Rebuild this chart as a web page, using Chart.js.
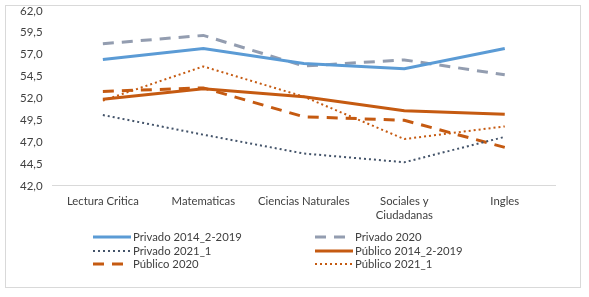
<!DOCTYPE html>
<html>
<head>
<meta charset="utf-8">
<script src="https://cdn.jsdelivr.net/npm/chart.js@4"></script>
<style>
  html, body { margin: 0; padding: 0; background: #fff; overflow: hidden; }
  .frame {
    position: absolute; left: 5px; top: 5px;
    width: 576px; height: 283px;
    border: 1px solid #d9d9d9; box-sizing: border-box;
  }
  /* canvas starts a little above the page so the top tick sits close to the frame */
  #chartBox { position: absolute; left: 0; top: -6px; width: 589px; height: 303px; }
</style>
</head>
<body>
<div class="frame"></div>
<div id="chartBox"><canvas id="scoresChart"></canvas></div>
<script>
const categories = ["Lectura Critica", "Matematicas", "Ciencias Naturales", ["Sociales y", "Ciudadanas"], "Ingles"];
const yTicks = [42.0, 44.5, 47.0, 49.5, 52.0, 54.5, 57.0, 59.5, 62.0];

const privado2014_2019 = [56.45, 57.7, 56.0, 55.4, 57.7];
const privado2020 = [58.25, 59.2, 55.7, 56.4, 54.7];
const privado2021_1 = [50.1, 47.85, 45.7, 44.7, 47.6];
const publico2014_2019 = [51.9, 53.1, 52.2, 50.6, 50.2];
const publico2020 = [52.8, 53.2, 49.9, 49.5, 46.4];
const publico2021_1 = [51.75, 55.65, 52.2, 47.35, 48.8];

const FONT = "Lato, 'Open Sans', sans-serif";
const INK = "#404040";

function series(label, data, color, width, dash) {
  return {
    label: label,
    data: data,
    borderColor: color,
    backgroundColor: color,
    borderWidth: width,
    borderDash: dash,
    pointRadius: 0,
    pointHoverRadius: 0,
    tension: 0,
    fill: false,
  };
}

// legend drawn in two fixed columns, like the spreadsheet original
const gridLegend = {
  id: "gridLegend",
  afterDraw(chart) {
    const ctx = chart.ctx;
    const colX = [93, 315];
    const rowY = [243, 257, 270];
    const sample = 38;
    ctx.save();
    ctx.font = "11.3px " + FONT;
    ctx.textBaseline = "middle";
    chart.data.datasets.forEach((ds, i) => {
      const x = colX[i % 2];
      const y = rowY[Math.floor(i / 2)];
      ctx.strokeStyle = ds.borderColor;
      ctx.lineWidth = ds.borderWidth;
      ctx.setLineDash(ds.borderDash || []);
      ctx.lineCap = "butt";
      ctx.beginPath();
      ctx.moveTo(x, y);
      ctx.lineTo(x + sample, y);
      ctx.stroke();
      ctx.setLineDash([]);
      ctx.fillStyle = INK;
      ctx.fillText(ds.label, x + sample + 2, y);
    });
    ctx.restore();
  },
};

new Chart(document.getElementById("scoresChart"), {
  type: "line",
  data: {
    labels: categories,
    datasets: [
      series("Privado 2014_2-2019", privado2014_2019, "#5b9bd5", 3, []),
      series("Privado 2020", privado2020, "#939db0", 3, [11, 8]),
      series("Privado 2021_1", privado2021_1, "#44546a", 2, [2, 3]),
      series("Público 2014_2-2019", publico2014_2019, "#c55a11", 3, []),
      series("Público 2020", publico2020, "#c55a11", 3, [11, 8]),
      series("Público 2021_1", publico2021_1, "#c55a11", 2, [2, 3]),
    ],
  },
  options: {
    responsive: true,
    maintainAspectRatio: false,
    animation: false,
    layout: { padding: { left: 10, right: 34, top: 0, bottom: 66 } },
    plugins: {
      legend: { display: false },
      tooltip: { enabled: false },
    },
    scales: {
      x: {
        offset: true,
        grid: { display: false, drawTicks: false },
        border: { display: true, color: "#d9d9d9", width: 1 },
        ticks: { color: INK, font: { family: FONT, size: 11.3 }, padding: 9, maxRotation: 0, autoSkip: false },
      },
      y: {
        min: yTicks[0],
        max: yTicks[yTicks.length - 1],
        afterBuildTicks(scale) {
          scale.ticks = yTicks.map((v) => ({ value: v }));
        },
        grid: { display: false, drawTicks: false },
        border: { display: false },
        ticks: {
          color: INK,
          font: { family: FONT, size: 11.5 },
          padding: 10,
          callback: (v) => v.toFixed(1).replace(".", ","),
        },
      },
    },
  },
  plugins: [gridLegend],
});
</script>
</body>
</html>
